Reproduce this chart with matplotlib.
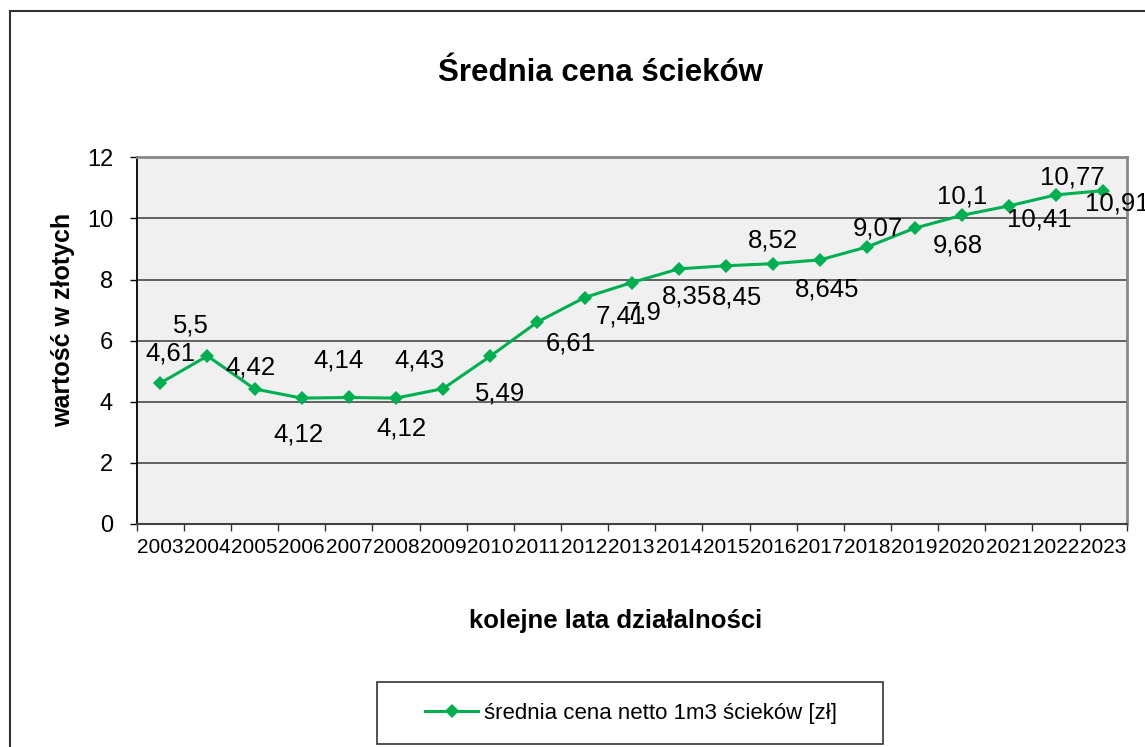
import matplotlib
matplotlib.use("Agg")
import matplotlib.pyplot as plt
from matplotlib.patches import Rectangle
from matplotlib.lines import Line2D

# ---- data ----
years = ["2003", "2004", "2005", "2006", "2007", "2008", "2009", "2010", "2011", "2012",
         "2013", "2014", "2015", "2016", "2017", "2018", "2019", "2020", "2021", "2022", "2023"]
prices = [4.61, 5.5, 4.42, 4.12, 4.14, 4.12, 4.43, 5.49, 6.61, 7.41,
          7.9, 8.35, 8.45, 8.52, 8.645, 9.07, 9.68, 10.1, 10.41, 10.77, 10.91]
y_ticks = [0, 2, 4, 6, 8, 10, 12]
title = "Średnia cena ścieków"
x_label = "kolejne lata działalności"
y_label = "wartość w złotych"
series_name = "średnia cena netto 1m3 ścieków [zł]"

# label offsets (pixels: right, down) as placed in the reference
label_offsets_px = [(10, -30), (-17, -30), (-4, -21), (-3, 36), (-10, -37), (5, 30), (-24, -28),
                    (10, 37), (33, 21), (36, 19), (12, 30), (8, 28), (11, 32), (0, -23),
                    (7, 30), (10, -18), (43, 17), (0, -19), (30, 14), (16, -17), (14, 13)]

plt.rcParams['font.family'] = ['Liberation Sans', 'DejaVu Sans']

W, H = 1145, 747
fig = plt.figure(figsize=(W / 100, H / 100), dpi=100)
fig.patch.set_facecolor('white')

# outer chart border
fig.patches.append(Rectangle((10 / W, -0.05), 1.2, (H - 11) / H + 0.05, transform=fig.transFigure,
                             fill=False, edgecolor='#333333', linewidth=1.5))

ax_l, ax_r, ax_t, ax_b = 136.7, 1126.7, 157.3, 524.0
ax = fig.add_axes([ax_l / W, 1 - ax_b / H, (ax_r - ax_l) / W, (ax_b - ax_t) / H])
ax.set_facecolor('#F0F0F0')

GREEN = '#00B050'
x = list(range(len(years)))
ax.plot(x, prices, color=GREEN, linewidth=2.2, marker='D', markersize=7,
        markeredgewidth=0, zorder=3, label=series_name)

for xi, v, (dx, dy) in zip(x, prices, label_offsets_px):
    ax.annotate(str(v).replace('.', ','), (xi, v), xytext=(dx * 0.72, -dy * 0.72),
                textcoords='offset points', ha='center', va='center', fontsize=18.5,
                color='black', annotation_clip=False, zorder=4)

ax.set_xlim(-0.5, len(years) - 0.5)
ax.set_ylim(0, 12)
ax.set_yticks(y_ticks)
ax.set_yticklabels([str(t) for t in y_ticks], fontsize=17)
ax.tick_params(axis='y', direction='out', length=5, width=1, color='black', pad=12)

ax.set_xticks(x)
ax.set_xticklabels(years, fontsize=15)
ax.tick_params(axis='x', which='major', length=0, pad=10)
ax.set_xticks([i - 0.5 for i in range(len(years) + 1)], minor=True)
ax.tick_params(axis='x', which='minor', direction='out', length=5, width=1, color='#333333')

for yv in y_ticks[1:-1]:
    ax.axhline(yv, color='#4a4a4a', linewidth=1.2, zorder=1)

ax.spines['left'].set_color('black')
ax.spines['left'].set_linewidth(1.3)
ax.spines['bottom'].set_color('#404040')
ax.spines['bottom'].set_linewidth(1.5)
for s in ('top', 'right'):
    ax.spines[s].set_color('#888888')
    ax.spines[s].set_linewidth(2.0)

fig.text(600 / W, 1 - 80.7 / H, title, ha='center', va='baseline', fontsize=22.5, fontweight='bold')
fig.text(616 / W, 1 - 627.7 / H, x_label, ha='center', va='baseline', fontsize=18.5, fontweight='bold')
fig.text(63.5 / W, 1 - 320 / H, y_label, ha='center', va='center', rotation=90, fontsize=18,
         fontweight='bold')

# legend box
fig.patches.append(Rectangle((376.7 / W, 1 - 744 / H), (883.3 - 376.7) / W, (744 - 681.7) / H,
                             transform=fig.transFigure, fill=False, edgecolor='#333333', linewidth=1.2))
handle = Line2D([], [], color=GREEN, linewidth=2.2, marker='D', markersize=7, markeredgewidth=0)
fig.legend([handle], [series_name], loc='center', bbox_to_anchor=(631 / W, 1 - 713 / H),
           frameon=False, fontsize=16, handlelength=2.4, handletextpad=0.25)

fig.savefig('out.png', dpi=100)
